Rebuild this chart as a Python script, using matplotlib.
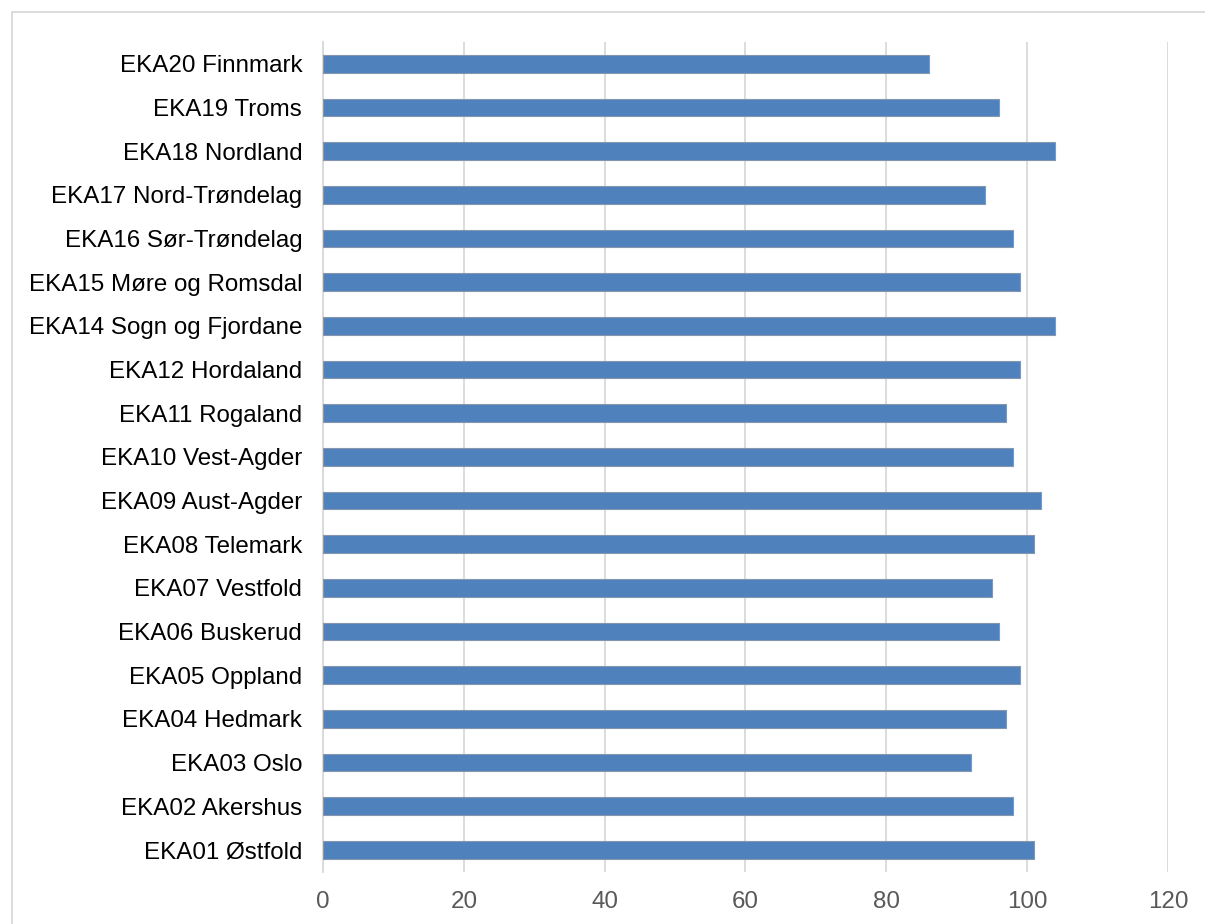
import matplotlib
matplotlib.use('Agg')
import matplotlib.pyplot as plt
from matplotlib.patches import Rectangle

# fylker, nederst til øverst
fylker = ['EKA01 Østfold', 'EKA02 Akershus', 'EKA03 Oslo', 'EKA04 Hedmark',
          'EKA05 Oppland', 'EKA06 Buskerud', 'EKA07 Vestfold', 'EKA08 Telemark',
          'EKA09 Aust-Agder', 'EKA10 Vest-Agder', 'EKA11 Rogaland', 'EKA12 Hordaland',
          'EKA14 Sogn og Fjordane', 'EKA15 Møre og Romsdal', 'EKA16 Sør-Trøndelag',
          'EKA17 Nord-Trøndelag', 'EKA18 Nordland', 'EKA19 Troms', 'EKA20 Finnmark']
verdier = [101, 98, 92, 97, 99, 96, 95, 101, 102, 98, 97, 99, 104, 99, 98, 94, 104, 96, 86]
xticks = [0, 20, 40, 60, 80, 100, 120]

plt.rcParams['font.family'] = ['Liberation Sans', 'DejaVu Sans']

W, H = 1205, 924
fig = plt.figure(figsize=(W / 100, H / 100), dpi=100)
ax = fig.add_axes([323 / W, 1 - 871.7 / H, (1168 - 323) / W, (871.7 - 42) / H])

ax.barh(range(len(fylker)), verdier, height=0.4, color='#4f81bd',
        edgecolor='#8596ad', linewidth=0.8, zorder=3)

ax.set_xlim(0, 120)
ax.set_ylim(-0.5, len(fylker) - 0.5)
ax.set_xticks(xticks)
ax.set_xticklabels([str(t) for t in xticks])
ax.set_yticks(range(len(fylker)))
ax.set_yticklabels(fylker)

ax.grid(axis='x', color='#d9d9d9', linewidth=1.3, zorder=0)
ax.tick_params(axis='y', length=0, pad=15, labelsize=17.4, labelcolor='#000000')
ax.tick_params(axis='x', length=0, pad=14, labelsize=17.4, labelcolor='#595959')
for s in ['top', 'right', 'bottom']:
    ax.spines[s].set_visible(False)
ax.spines['left'].set_color('#d9d9d9')
ax.spines['left'].set_linewidth(1.3)

# ramme rundt diagrammet
fig.add_artist(Rectangle((12 / W, -0.1), 1.2, 1.1 - 12 / H, transform=fig.transFigure,
                         fill=False, edgecolor='#d9d9d9', linewidth=1.3))

fig.savefig('out.png', dpi=100)
